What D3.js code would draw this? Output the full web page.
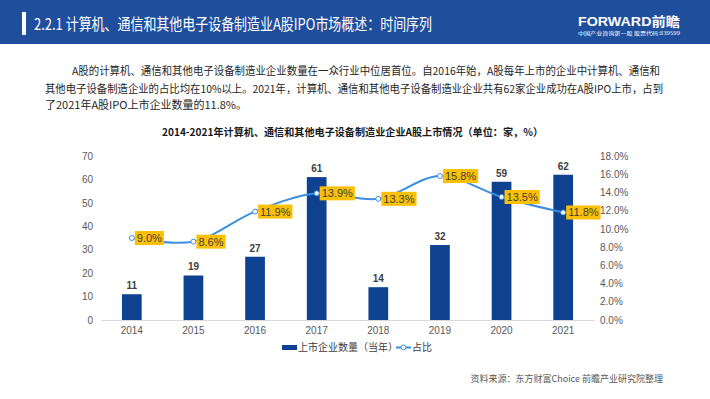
<!DOCTYPE html>
<html><head><meta charset="utf-8">
<script src="https://cdn.jsdelivr.net/npm/d3@7/dist/d3.min.js"></script>
<style>
html,body{margin:0;padding:0;background:#fff;}
svg{display:block;}
</style></head>
<body>
<svg id="c" width="710" height="399"></svg>
<script>
const years = ["2014","2015","2016","2017","2018","2019","2020","2021"];
const counts = [11,19,27,61,14,32,59,62];
const shares = [9.0,8.6,11.9,13.9,13.3,15.8,13.5,11.8];
const leftTicks = [0,10,20,30,40,50,60,70];
const rightTicks = [0,2,4,6,8,10,12,14,16,18];
const headerTitle = "2.2.1 计算机、通信和其他电子设备制造业A股IPO市场概述：时间序列";
const paragraph = [
  "A股的计算机、通信和其他电子设备制造业企业数量在一众行业中位居首位。自2016年始，A股每年上市的企业中计算机、通信和",
  "其他电子设备制造企业的占比均在10%以上。2021年，计算机、通信和其他电子设备制造业企业共有62家企业成功在A股IPO上市，占到",
  "了2021年A股IPO上市企业数量的11.8%。"
];
const chartTitle = "2014-2021年计算机、通信和其他电子设备制造业企业A股上市情况（单位：家，%）";
const legendLabels = ["上市企业数量（当年）","占比"];
const source = "资料来源：东方财富Choice 前瞻产业研究院整理";

const CJK = "'Noto Sans CJK SC','Noto Sans',sans-serif";
const LAT = "'Liberation Sans',Arial,'Noto Sans CJK SC',sans-serif";
const svg = d3.select("#c");

// header
svg.append("rect").attr("x",0).attr("y",0).attr("width",710).attr("height",44).attr("fill","#1f4e9d");
svg.append("rect").attr("x",22).attr("y",12).attr("width",4).attr("height",23).attr("fill","#fff");
svg.append("text").attr("x",34).attr("y",30).attr("fill","#fff")
  .style("font-family",CJK).style("font-size","16px")
  .attr("textLength",398).attr("lengthAdjust","spacingAndGlyphs").text(headerTitle);
svg.append("text").attr("x",578).attr("y",26).attr("fill","#fff")
  .style("font-family",LAT).style("font-size","13px").style("font-weight","bold")
  .attr("textLength",102).attr("lengthAdjust","spacingAndGlyphs").text("FORWARD前瞻");
svg.append("text").attr("x",578).attr("y",35).attr("fill","#fff")
  .style("font-family",CJK).style("font-size","4.5px")
  .attr("textLength",102).attr("lengthAdjust","spacingAndGlyphs").text("中国产业咨询第一股  股票代码:839599");

// paragraph
const pX = [72,45,45], pY=[75,93,109], pW=[588,618,null];
paragraph.forEach((t,i)=>{
  const el = svg.append("text").attr("x",pX[i]).attr("y",pY[i]).attr("fill","#262626")
    .style("font-family",CJK).style("font-size","11px").text(t);
  if(pW[i]) el.attr("textLength",pW[i]).attr("lengthAdjust","spacingAndGlyphs");
});

// chart title
svg.append("text").attr("x",162).attr("y",136).attr("fill","#1a1a1a")
  .style("font-family",CJK).style("font-size","10.5px").style("font-weight","bold")
  .attr("textLength",381).attr("lengthAdjust","spacingAndGlyphs").text(chartTitle);

// scales
const x = d3.scaleBand().domain(years).range([101,594]).paddingInner(0.68).paddingOuter(0.34);
const yL = d3.scaleLinear().domain([0,70]).range([320,156]);
const yR = d3.scaleLinear().domain([0,18]).range([320,156]);

// axes
const gx = svg.append("g").attr("transform","translate(0,320)")
  .call(d3.axisBottom(x).tickSize(0).tickPadding(7));
gx.select(".domain").attr("stroke","#d9d9d9");
gx.selectAll("text").attr("fill","#595959").style("font-family",LAT).style("font-size","10px");

const gl = svg.append("g").attr("transform","translate(93,0)")
  .call(d3.axisLeft(yL).tickValues(leftTicks).tickSize(0).tickPadding(0));
gl.select(".domain").remove();
gl.selectAll("text").attr("fill","#595959").style("font-family",LAT).style("font-size","10px");

const gr = svg.append("g").attr("transform","translate(600,0)")
  .call(d3.axisRight(yR).tickValues(rightTicks).tickSize(0).tickPadding(0).tickFormat(d=>d.toFixed(1)+"%"));
gr.select(".domain").remove();
gr.selectAll("text").attr("fill","#595959").style("font-family",LAT).style("font-size","10px");

// bars
const barColor = "#0e4291";
svg.append("g").selectAll("rect").data(counts).join("rect")
  .attr("x",(d,i)=>x(years[i])).attr("width",x.bandwidth())
  .attr("y",d=>yL(d)).attr("height",d=>320-yL(d)).attr("fill",barColor);
svg.append("g").selectAll("text").data(counts).join("text")
  .attr("x",(d,i)=>x(years[i])+x.bandwidth()/2).attr("y",d=>yL(d)-5)
  .attr("text-anchor","middle").attr("fill","#404040")
  .style("font-family",LAT).style("font-size","10px").style("font-weight","bold").text(d=>d);

// line
const lineColor = "#3b8ee0";
const cx = i=>x(years[i])+x.bandwidth()/2;
const line = d3.line().x((d,i)=>cx(i)).y(d=>yR(d)).curve(d3.curveCatmullRom.alpha(0.5));
svg.append("path").datum(shares).attr("d",line).attr("fill","none")
  .attr("stroke",lineColor).attr("stroke-width",2);
svg.append("g").selectAll("circle").data(shares).join("circle")
  .attr("cx",(d,i)=>cx(i)).attr("cy",d=>yR(d)).attr("r",2.5)
  .attr("fill","#fff").attr("stroke",lineColor).attr("stroke-width",1);

// labels
const lg = svg.append("g");
shares.forEach((d,i)=>{
  const g = lg.append("g");
  const t = g.append("text").attr("x",cx(i)+5).attr("y",yR(d)+4)
    .attr("fill","#404040").style("font-family",LAT).style("font-size","11px")
    .text(d.toFixed(1)+"%");
  const w = t.node().getComputedTextLength();
  g.insert("rect","text").attr("x",cx(i)+3).attr("y",yR(d)-7)
    .attr("width",w+4).attr("height",14).attr("fill","#fcc006");
});

// legend
svg.append("rect").attr("x",282).attr("y",345).attr("width",15).attr("height",5).attr("fill",barColor);
svg.append("text").attr("x",298).attr("y",351).attr("fill","#404040")
  .style("font-family",CJK).style("font-size","10px").text(legendLabels[0]);
svg.append("line").attr("x1",396).attr("x2",411).attr("y1",347.5).attr("y2",347.5)
  .attr("stroke",lineColor).attr("stroke-width",2);
svg.append("circle").attr("cx",403.5).attr("cy",347.5).attr("r",2.5)
  .attr("fill","#fff").attr("stroke",lineColor);
svg.append("text").attr("x",412).attr("y",351).attr("fill","#404040")
  .style("font-family",CJK).style("font-size","10px").text(legendLabels[1]);

// source
svg.append("text").attr("x",663).attr("y",382).attr("text-anchor","end").attr("fill","#595959")
  .style("font-family",CJK).style("font-size","9px").text(source);
</script>
</body></html>
